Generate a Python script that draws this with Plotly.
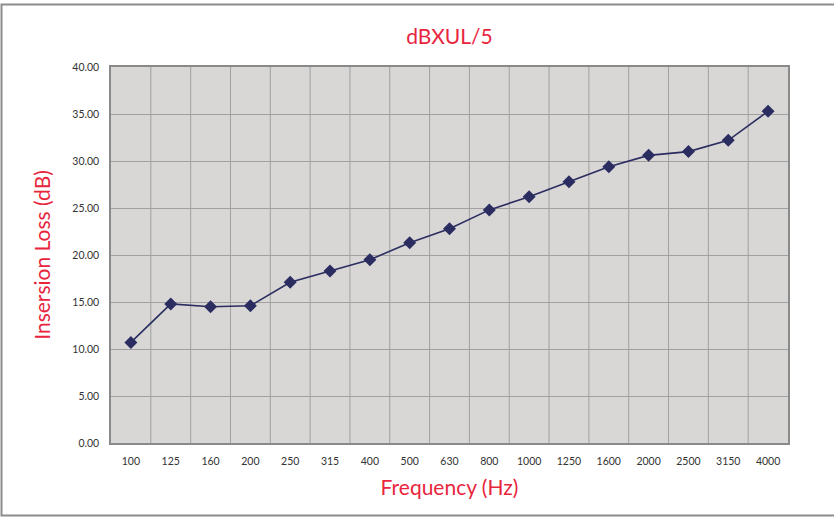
import plotly.graph_objects as go

freqs = ["100", "125", "160", "200", "250", "315", "400", "500", "630", "800",
         "1000", "1250", "1600", "2000", "2500", "3150", "4000"]
loss = [10.7, 14.8, 14.5, 14.6, 17.1, 18.3, 19.5, 21.3, 22.8, 24.8,
        26.2, 27.8, 29.4, 30.6, 31.0, 32.2, 35.3]
yticks = [0, 5, 10, 15, 20, 25, 30, 35, 40]

RED = "#e8253d"
NAVY = "#2b2d60"
GRID = "#a0a0a0"
FONT = "Lato, Open Sans, sans-serif"

fig = go.Figure()
fig.add_trace(go.Scatter(
    x=list(range(len(freqs))), y=loss, mode="lines+markers",
    line=dict(color=NAVY, width=1.6),
    marker=dict(symbol="diamond", size=10, color=NAVY),
    showlegend=False, hoverinfo="skip"))

W, H = 834, 518
L, R, T, B = 111, 46, 67, 75
pw, ph = W - L - R, H - T - B

def px(x):
    return (x - L) / pw

def py(y):
    return (H - B - y) / ph

fig.update_layout(
    width=W, height=H,
    margin=dict(l=L, r=R, t=T, b=B),
    paper_bgcolor="white", plot_bgcolor="#d8d7d6",
    font=dict(family=FONT, color="#333333", size=10),
    title=dict(text="dBXUL/5", x=0.5, xref="paper", xanchor="center",
               y=1 - 37 / H, yanchor="middle",
               font=dict(family=FONT, size=21, color=RED)),
    xaxis=dict(
        range=[-0.5, len(freqs) - 0.5],
        tickmode="array", tickvals=list(range(len(freqs))), ticktext=freqs,
        showgrid=False, zeroline=False,
        showline=True, linecolor="#8a8a8a", linewidth=1.5, mirror=True,
        ticks="", ticklabelstandoff=8,
        tickfont=dict(size=10.5, color="#333333"),
        title=dict(text="Frequency (Hz)", standoff=14,
                   font=dict(family=FONT, size=21, color=RED)),
    ),
    yaxis=dict(
        range=[0, 40], tickmode="array", tickvals=yticks,
        ticktext=[f"{v:.2f}" for v in yticks],
        showgrid=True, gridcolor=GRID, gridwidth=1, zeroline=False,
        showline=True, linecolor="#8a8a8a", linewidth=1.5, mirror=True,
        ticks="", ticklabelstandoff=8,
        tickfont=dict(size=10.5, color="#333333"),
        title=dict(text="Insersion Loss (dB)", standoff=16,
                   font=dict(family=FONT, size=21, color=RED)),
    ),
)

# vertical category-boundary gridlines
for k in range(1, len(freqs)):
    fig.add_shape(type="line", xref="x", yref="paper",
                  x0=k - 0.5, x1=k - 0.5, y0=0, y1=1,
                  line=dict(color=GRID, width=1), layer="below")

# outer chart border (right edge lies outside the window)
fig.add_shape(type="rect", xref="paper", yref="paper",
              x0=px(1.5), x1=px(870), y0=py(515.5), y1=py(4.5),
              line=dict(color="#8c8c8c", width=2), layer="above")

fig.write_html("out.html", config={"displayModeBar": False},
               post_script="document.body.style.margin='0';document.body.style.overflow='hidden';")
